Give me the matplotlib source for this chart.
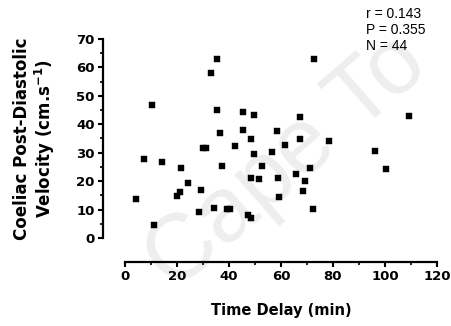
import matplotlib.pyplot as plt
import numpy as np

plt.rcParams['font.family'] = ['DejaVu Sans']

# Time delay (min) and coeliac post-diastolic velocity (cm/s)
time_delay = [4.2, 7.4, 10.3, 11.3, 14.2, 20.1, 21.3, 21.4, 24.2, 28.3,
              29.2, 30.1, 31.2, 33.1, 34.2, 35.3, 35.5, 36.4, 37.3, 39.4,
              40.4, 42.3, 45.3, 45.3, 47.4, 48.5, 48.5, 48.5, 49.6, 49.7,
              51.5, 52.6, 56.4, 58.5, 58.7, 59.3, 61.5, 65.6, 67.4, 67.4,
              68.6, 69.3, 71.3, 72.4, 72.7, 78.6, 96.2, 100.3, 109.2]
velocity = [13.8, 27.7, 46.9, 4.7, 26.7, 14.7, 16.3, 24.5, 19.5, 9.3,
            16.8, 31.5, 31.5, 57.9, 10.4, 63.1, 45.0, 37.0, 25.4, 10.1,
            10.1, 32.4, 44.3, 38.0, 8.1, 7.1, 34.9, 21.2, 43.4, 29.7,
            20.9, 25.4, 30.1, 37.5, 21.0, 14.5, 32.8, 22.6, 42.6, 34.9,
            16.4, 20.2, 24.6, 10.1, 62.8, 34.0, 30.5, 24.2, 42.9]

stats_lines = ["r = 0.143", "P = 0.355", "N = 44"]

fig = plt.figure(figsize=(4.52, 3.26), dpi=100)
ax = fig.add_axes([0.2765, 0.27, 0.6903, 0.6104])

# faint watermark behind everything
ax.text(0.635, 0.5, "Cape To", fontsize=66, color='#eeeeee', rotation=41,
        ha='center', va='center', transform=fig.transFigure, zorder=0,
        clip_on=False, family='Liberation Sans')

ax.scatter(time_delay, velocity, marker='s', s=14, color='black', zorder=3,
           linewidths=0.3)

ax.set_xlim(0, 120)
ax.set_ylim(0, 70)
ax.set_xticks(np.arange(0, 121, 20))
ax.set_xticks(np.arange(10, 120, 20), minor=True)
ax.set_yticks(np.arange(0, 71, 10))
ax.set_yticks(np.arange(5, 70, 10), minor=True)

ax.spines['top'].set_visible(False)
ax.spines['right'].set_visible(False)
ax.spines['bottom'].set_position(('outward', 17))
ax.spines['left'].set_position(('outward', 16))
ax.spines['bottom'].set_linewidth(1.6)
ax.spines['left'].set_linewidth(1.6)
ax.patch.set_alpha(0)

ax.tick_params(which='major', length=3.8, width=1.5, labelsize=9.5, pad=2)
ax.tick_params(which='minor', length=2.5, width=1.2)
for lab in ax.get_xticklabels() + ax.get_yticklabels():
    lab.set_fontweight('bold')

ax.set_xlabel("Time Delay (min)", fontsize=10.5, fontweight='bold', labelpad=15)
ax.set_ylabel("Coeliac Post-Diastolic\nVelocity (cm.s$^{\\mathbf{-1}}$)",
              fontsize=12, fontweight='bold', labelpad=14, linespacing=1.1)

for i, line in enumerate(stats_lines):
    fig.text(0.81, 0.957 - i * 0.049, line, fontsize=10, va='center', ha='left',
             family='Liberation Sans')

fig.savefig("out.png", dpi=100)
